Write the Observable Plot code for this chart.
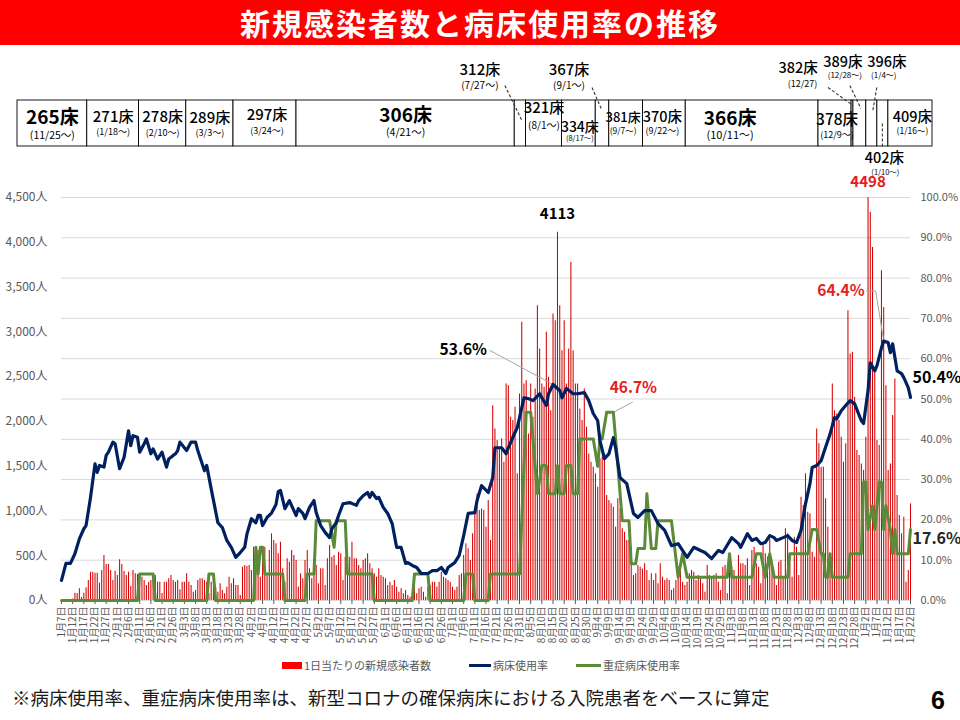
<!DOCTYPE html>
<html lang="ja">
<head>
<meta charset="utf-8">
<script src="https://cdn.jsdelivr.net/npm/d3@7"></script>
<script src="https://cdn.jsdelivr.net/npm/@observablehq/plot@0.6"></script>
<style>
  html,body{margin:0;padding:0;background:#fff;}
  #page{position:relative;width:960px;height:720px;overflow:hidden;background:#fff;font-family:"Noto Sans CJK JP","Noto Sans",sans-serif;}
  #title{position:absolute;left:0;top:0;width:960px;height:45px;background:#ff0000;color:#fff;font-weight:bold;font-size:30px;line-height:45px;text-align:center;letter-spacing:2px;}
  .layer{position:absolute;left:0;}
  .layer svg{display:block;overflow:visible;}
  #legend{position:absolute;left:282px;top:657px;display:flex;align-items:center;font-size:11px;color:#595959;white-space:nowrap;}
  #legend .item{display:flex;align-items:center;}
  #legend .sw{display:inline-block;margin-right:2px;}
  #note{position:absolute;left:12px;top:684px;font-size:18.5px;color:#1a1a1a;white-space:nowrap;}
  #pageno{position:absolute;left:931px;top:686px;font-size:25px;font-weight:bold;color:#000;font-family:"Liberation Sans",Arial,sans-serif;}
</style>
</head>
<body>
<div id="page">
  <div id="title">新規感染者数と病床使用率の推移</div>
  <div id="strip" class="layer" style="top:55px"></div>
  <div id="layerA" class="layer" style="top:165px"></div>
  <div id="layerL" class="layer" style="top:165px"></div>
  <div id="layerB" class="layer" style="top:165px"></div>
  <div id="layerC" class="layer" style="top:165px"></div>
  <div id="legend"></div>
  <div id="note">※病床使用率、重症病床使用率は、新型コロナの確保病床における入院患者をベースに算定</div>
  <div id="pageno">6</div>
</div>
<script>
// ---------------- DATA ----------------
const startDay = "2022-01-07";           // day 0 of the series (last day = day 380, 1/22)

// daily new cases (day 0 .. day 380)
const newCases = [
  0,0,0,0,0,
  18,81,77,131,33,81,141,223,316,316,
  305,305,194,335,502,401,401,335,223,327,
  279,454,401,324,279,316,157,335,298,290,
  223,261,223,167,204,223,260,279,204,204,
  78,204,204,242,279,223,204,223,120,204,
  204,298,204,167,93,112,223,242,242,223,
  204,75,204,149,149,93,186,112,75,149,
  260,186,242,167,167,56,372,391,380,391,
  335,595,502,558,260,502,595,298,558,744,
  670,633,521,
  651,354,204,465,428,558,502,446,149,298,242,446,558,354,242,
  279,391,186,354,354,167,465,614,483,502,391,539,521,223,483,391,483,651,465,465,
  391,354,446,465,521,410,354,298,260,354,279,260,242,167,204,167,223,149,
  93,131,75,112,56,37,75,149,75,131,149,93,37,149,167,204,204,149,204,316,
  260,242,223,204,149,112,149,279,298,502,633,577,446,744,968,1191,1004,1023,1004,818,1116,
  670,
  2176,1916,1786,1693,1804,1544,2418,2399,2046,2009,
  2158,1414,2306,3106,2418,2455,1860,2418,2046,2362,
  3292,2809,2418,2381,2995,2492,2120,3199,3125,4113,
  3292,2790,3125,2418,2809,3776,2790,2418,2418,2139,
  2009,2362,1934,1637,1544,1488,1414,1265,1581,1600,
  1637,1172,1116,1079,1042,818,1135,1023,800,762,
  670,670,595,279,298,391,372,353,409,335,
  223,298,223,298,186,409,260,223,242,223,
  112,130,223,298,372,205,167,205,298,335,
  316,223,
  279,260,186,93,391,279,260,279,298,205,
  112,372,391,74,502,372,335,242,502,409,
  409,391,465,167,558,595,409,372,186,632,
  521,484,688,372,260,167,428,446,242,800,
  744,409,260,707,595,279,1153,1060,1414,986,
  967,539,484,1916,1749,1488,1488,1135,818,391,
  2418,2120,2083,2009,1823,1544,1749,3236,2753,2771,
  2269,1674,1618,1525,1451,1823,4498,4334,3943,2548,
  1786,1730,3683,3273,2399,1451,1525,2065,2474,1172,
  949,744,930,205,335,1079
];

// bed occupancy rate (%) : [day, value]
const bedRate = [
[0,5.0],[2,9.2],[4,9.2],[6,11.6],[8,15.3],[10,17.8],[11,18.6],[13,25.6],[15,33.9],[16,31.8],[17,33.5],[19,33.1],[20,36.0],[21,36.8],[23,39.3],[24,38.9],[26,32.7],[28,35.5],[30,42.1],[31,38.4],[32,40.9],[34,40.5],[35,36.8],[37,38.9],[38,40.1],[40,36.4],[41,37.6],[43,35.1],[45,36.8],[47,33.1],[48,35.1],[50,36.0],[51,36.4],[52,37.2],[53,39.3],[56,37.2],[58,39.3],[60,39.3],[61,37.2],[64,32.2],[65,33.5],[67,27.7],[70,19.3],[72,18.1],[74,14.9],[76,13.2],[78,10.7],[80,11.9],[82,13.2],[83,16.5],[85,20.3],[87,19.3],[88,21.1],[89,21.1],[90,18.6],[92,20.6],[94,21.7],[96,23.8],[97,27.0],[98,27.3],[100,22.8],[102,24.8],[105,21.1],[106,22.8],[108,21.6],[109,20.3],[111,23.1],[113,24.8],[114,21.8],[116,18.6],[118,16.9],[120,15.6],[121,17.8],[123,19.3],[124,21.1],[126,24.0],[129,24.3],[132,23.6],[133,24.8],[135,26.0],[137,26.8],[138,25.6],[139,26.8],[141,25.3],[142,25.6],[144,23.1],[146,21.6],[148,19.1],[150,13.2],[152,13.2],[154,9.2],[155,9.4],[157,8.7],[159,8.2],[161,6.7],[164,6.7],[166,7.4],[168,7.4],[170,8.2],[172,6.7],[173,8.2],[176,9.4],[178,11.2],[180,16.1],[182,21.6],[185,21.8],[186,24.8],[188,28.5],[191,26.8],[193,30.5],[194,37.9],[197,37.9],[199,36.4],[200,37.9],[202,40.5],[204,42.9],[205,45.4],[207,50.3],[209,50.1],[211,49.6],[214,51.3],[217,48.4],[218,51.3],[220,53.6],[223,52.1],[224,50.3],[226,52.6],[229,51.3],[231,51.3],[234,51.6],[236,49.6],[238,46.4],[240,44.6],[241,39.7],[243,35.2],[245,36.4],[247,40.4],[248,37.9],[250,30.5],[253,29.0],[256,21.6],[258,20.6],[261,22.3],[264,22.3],[267,19.1],[270,17.4],[273,13.6],[276,14.1],[280,10.7],[283,13.2],[286,12.4],[288,11.9],[291,10.4],[294,12.4],[296,11.9],[300,15.6],[303,14.1],[304,13.2],[307,16.6],[309,14.9],[311,15.4],[313,14.1],[315,14.4],[317,16.1],[319,15.6],[320,14.9],[323,15.6],[325,16.1],[327,14.9],[329,14.4],[331,17.4],[333,24.0],[335,29.0],[336,33.0],[338,33.5],[340,34.7],[341,36.4],[344,41.3],[346,45.4],[347,45.1],[349,47.1],[351,48.4],[353,49.6],[355,48.8],[358,44.6],[359,43.9],[361,52.1],[362,59.0],[364,57.0],[365,58.3],[367,62.7],[368,64.4],[370,64.0],[371,61.5],[372,63.7],[374,57.0],[376,56.3],[377,55.3],[379,52.8],[380,50.4]
];

// severe-case bed occupancy rate (%) : [day, value]
const severeRate = [
[0,0],[34,0],[35,6.6],[41,6.6],[42,0],[65,0],[66,6.6],[68,6.6],[69,0],[86,0],[87,13.2],[88,6.6],[89,13.2],[90,13.2],[91,6.6],[99,6.6],[100,0],[109,0],[110,6.6],[113,6.6],[114,19.8],[120,19.8],[122,13.2],[123,19.8],[127,19.8],[128,6.6],[139,6.6],[140,0],[157,0],[158,6.6],[164,6.6],[165,0],[180,0],[181,6.6],[184,6.6],[185,0],[191,0],[192,6.6],[205,6.6],[208,46.7],[210,46.7],[211,40.1],[213,26.5],[215,33.5],[217,33.5],[218,26.5],[221,26.5],[222,33.5],[223,26.5],[225,26.5],[226,33.5],[228,33.5],[229,26.5],[231,26.5],[232,40.1],[238,40.1],[240,33.3],[241,40.1],[242,40.1],[244,46.7],[247,46.7],[249,33.5],[251,19.8],[254,19.8],[255,9.1],[257,9.1],[258,12.9],[261,12.9],[262,26.5],[263,19.8],[264,12.9],[266,12.9],[267,19.8],[273,19.8],[276,5.8],[278,11.6],[280,5.8],[298,5.8],[299,11.6],[300,5.8],[309,5.8],[311,11.6],[313,11.6],[315,5.8],[317,11.6],[319,5.8],[325,5.8],[326,11.6],[334,11.6],[336,17.6],[338,17.6],[340,11.6],[341,11.6],[342,5.8],[343,5.8],[344,11.6],[345,5.8],[352,5.8],[353,11.6],[358,11.6],[359,29.4],[360,29.4],[361,17.6],[363,23.5],[364,17.6],[366,29.4],[367,29.4],[368,17.6],[369,23.5],[371,17.6],[372,11.6],[373,17.6],[374,11.6],[379,11.6],[380,17.6]
];

// labelled points
const peakDays = [222, 361];                 // new-case peaks labelled with their value
const bedLabelDays = [220, 368, 380];        // bed rate labels
const severeLabelDays = [247, 380];          // severe rate labels

// secured beds
const bedLabels = ["265床","271床","278床","289床","297床","306床","312床","321床","334床","367床","381床","370床","366床","378床","382床","389床","396床","402床","409床"];
const bedSince  = ["(11/25～)","(1/18～)","(2/10～)","(3/3～)","(3/24～)","(4/21～)","(7/27～)","(8/1～)","(8/17～)","(9/1～)","(9/7～)","(9/22～)","(10/11～)","(12/9～)","(12/27)","(12/28～)","(1/4～)","(1/10～)","(1/16～)"];
const bedStart  = ["2021-11-25","2022-01-18","2022-02-10","2022-03-03","2022-03-24","2022-04-21","2022-07-27","2022-08-01","2022-08-17","2022-09-01","2022-09-07","2022-09-22","2022-10-11","2022-12-09","2022-12-27","2022-12-28","2023-01-04","2023-01-10","2023-01-16"];

const yTicksPeople = [0,500,1000,1500,2000,2500,3000,3500,4000,4500];
const yTicksPct = [0,10,20,30,40,50,60,70,80,90,100];
const seriesNames = ["1日当たりの新規感染者数","病床使用率","重症病床使用率"];

// ---------------- STYLE ----------------
const RED = "#d60000", NAVY = "#002060", GREEN = "#5b8a38", LABELRED = "#e3201c";
const FONT = '"Noto Sans CJK JP","Noto Sans",sans-serif';
const W = 960, H = 495;

const t0 = new Date(startDay + "T00:00:00Z").getTime();
const dayDate = d => new Date(t0 + d * 864e5);

const xMain = {type: "utc", domain: [dayDate(0), dayDate(newCases.length - 1)], range: [61, 910]};
const yPct = {domain: [0, 100], range: [435, 32]};
const yPeople = {domain: [0, 4500], range: [435, 32]};
const common = {width: W, height: H, marginTop: 32, marginBottom: 60, marginLeft: 61, marginRight: 50};

const caseRows = newCases.map((v, i) => ({date: dayDate(i), cases: v}));
const bedRows = bedRate.map(([d, v]) => ({date: dayDate(d), value: v}));
const sevRows = severeRate.map(([d, v]) => ({date: dayDate(d), value: v}));
const tickDates = d3.range(0, newCases.length, 5).map(dayDate);

// Layer A: gridlines + right axis (%)
document.getElementById("layerA").append(Plot.plot({
  ...common,
  style: {background: "transparent", fontFamily: FONT, fontSize: "11px", color: "#595959"},
  x: {...xMain, axis: null},
  y: {...yPct, axis: "right", ticks: yTicksPct, tickFormat: d => d.toFixed(1) + "%", tickSize: 0, tickPadding: 10, label: null},
  marks: [Plot.ruleY(yTicksPct, {y: d => d, stroke: "#d9d9d9", strokeWidth: 1})]
}));

// Layer L: left axis (people)
document.getElementById("layerL").append(Plot.plot({
  ...common,
  style: {background: "transparent", fontFamily: FONT, fontSize: "12px", color: "#595959"},
  x: {...xMain, axis: null},
  y: {...yPeople, ticks: yTicksPeople, tickFormat: d => d3.format(",")(d) + "人", tickSize: 0, tickPadding: 14, label: null},
  marks: [Plot.ruleY(yTicksPeople, {y: d => d, strokeOpacity: 0})]
}));

// Layer B: daily bars + date axis
const fmtDate = d => `${d.getUTCMonth() + 1}月${d.getUTCDate()}日`;
document.getElementById("layerB").append(Plot.plot({
  ...common,
  style: {background: "transparent", fontFamily: FONT, fontSize: "10px", color: "#595959"},
  x: {...xMain, ticks: tickDates, tickFormat: fmtDate, tickRotate: -90, tickSize: 4, tickPadding: 2, label: null},
  y: {...yPeople, axis: null},
  marks: [
    Plot.ruleX(caseRows, {x: "date", y: "cases", stroke: RED, strokeWidth: 1.05}),
    Plot.text(peakDays.filter(d => d === 222), {x: d => dayDate(d), y: d => newCases[d], text: d => String(newCases[d]), dy: -18, fontSize: 15, fontWeight: "bold", fill: "#000"}),
    Plot.text(peakDays.filter(d => d === 361), {x: d => dayDate(d), y: d => newCases[d], text: d => String(newCases[d]), dy: -15, fontSize: 15, fontWeight: "bold", fill: LABELRED})
  ]
}));

// Layer C: rate lines + annotations
const sx = Plot.scale({x: xMain});
const sy = Plot.scale({y: yPct});
const offs = (date, value, dx, dy) => ({date: sx.invert(sx.apply(date) + dx), value: sy.invert(sy.apply(value) + dy)});
const bedVal = d => bedRate.find(p => p[0] === d)[1];
const sevVal = d => severeRate.filter(p => p[0] === d).slice(-1)[0][1];

const b1 = {date: dayDate(bedLabelDays[0]), value: bedVal(bedLabelDays[0])};   // 53.6
const b2 = {date: dayDate(bedLabelDays[1]), value: bedVal(bedLabelDays[1])};   // 64.4
const b3 = {date: dayDate(bedLabelDays[2]), value: bedVal(bedLabelDays[2])};   // 50.4
const s1 = {date: dayDate(severeLabelDays[0]), value: sevVal(severeLabelDays[0])}; // 46.7
const s2 = {date: dayDate(severeLabelDays[1]), value: sevVal(severeLabelDays[1])}; // 17.6
const pctText = d => d.value.toFixed(1) + "%";

const lead1 = [b1, offs(b1.date, b1.value, -63, -34)];
const lead2 = [s1, offs(s1.date, s1.value, 19, -10)];
const lead3 = [b2, offs(b2.date, b2.value, -8, -50), offs(b2.date, b2.value, -17, -50)];

document.getElementById("layerC").append(Plot.plot({
  ...common,
  style: {background: "transparent", fontFamily: FONT},
  x: {...xMain, axis: null},
  y: {...yPct, axis: null},
  marks: [
    Plot.line(lead1, {x: "date", y: "value", stroke: "#a6a6a6", strokeWidth: 1}),
    Plot.line(lead2, {x: "date", y: "value", stroke: "#a6a6a6", strokeWidth: 1}),
    Plot.line(lead3, {x: "date", y: "value", stroke: "#a6a6a6", strokeWidth: 1}),
    Plot.line(sevRows, {x: "date", y: "value", stroke: GREEN, strokeWidth: 3, strokeLinejoin: "round"}),
    Plot.line(bedRows, {x: "date", y: "value", stroke: NAVY, strokeWidth: 3.2, strokeLinejoin: "round"}),
    Plot.text([b1], {x: "date", y: "value", text: pctText, dx: -66, dy: -34, textAnchor: "end", fontSize: 15.5, fontWeight: "bold", fill: "#000"}),
    Plot.text([s1], {x: "date", y: "value", text: pctText, dx: 20, dy: -24, fontSize: 15.5, fontWeight: "bold", fill: LABELRED}),
    Plot.text([b2], {x: "date", y: "value", text: pctText, dx: -19, dy: -50, textAnchor: "end", fontSize: 15.5, fontWeight: "bold", fill: LABELRED}),
    Plot.text([b3], {x: "date", y: "value", text: pctText, dx: 2, dy: -20, textAnchor: "start", fontSize: 16, fontWeight: "bold", fill: "#000"}),
    Plot.text([s2], {x: "date", y: "value", text: pctText, dx: 2, dy: 9, textAnchor: "start", fontSize: 16, fontWeight: "bold", fill: "#262626"})
  ]
}));

// ---------------- Bed strip ----------------
const stripX = {type: "utc", domain: [new Date("2021-12-18T00:00:00Z"), new Date("2022-12-09T00:00:00Z"), new Date("2023-02-09T00:00:00Z")], range: [17, 818, 932], clamp: true};
const ssx = Plot.scale({x: stripX});
const startDates = bedStart.map(s => new Date(s + "T00:00:00Z"));
const boxes = bedLabels.map((lab, i) => {
  const s = startDates[i], e = i + 1 < startDates.length ? startDates[i + 1] : stripX.domain[2];
  const mid = ssx.invert((ssx.apply(s) + ssx.apply(e)) / 2);
  return {i, lab, since: bedSince[i], s, e, mid};
});
// per-label layout: dx, y, font size, weight, date dx, date y, date size
const L = [
  [0, 62, 19, 600, 0, 80, 10.5],
  [0, 62, 15, 500, 0, 77, 9],
  [0, 62, 15, 500, 0, 78, 9],
  [0, 63, 15, 500, 0, 78, 9],
  [2, 60, 15, 500, 2, 76, 9],
  [0, 60, 19, 600, 0, 77, 10.5],
  [-40.5, 15, 15, 500, -40.5, 30, 10],
  [0, 53, 15, 500, 0, 70, 10],
  [1, 72, 14, 500, 1, 83, 7.5],
  [-33.5, 15, 15, 500, -33.5, 30, 10],
  [-3, 62, 13, 500, -3, 76, 8.5],
  [-2, 62, 14.5, 500, -2, 76, 9],
  [-22, 63, 19, 600, -22, 80, 11],
  [2, 65, 15.5, 500, 2, 80, 9],
  [-54.5, 13, 14.5, 500, -50, 29, 9],
  [-17, 7, 14.5, 500, -15, 20, 8],
  [15, 7, 14.5, 500, 12, 20, 8],
  [1.5, 103, 14.5, 500, 2.5, 117, 7.5],
  [2, 62, 14.5, 500, 2, 76, 8.5]
];
const leaders = [[6, -15.5, 30, 1.5, 65], [9, -10.5, 32, -0.5, 55], [14, -24.5, 32, 0.5, 50], [15, -10, 30, 1, 53], [16, 5, 32, 1, 55], [17, -0.5, 68, -0.5, 92]];
const lx = (i, dx) => ssx.invert(ssx.apply(boxes[i].mid) + dx);

const stripMarks = [
  Plot.rect(boxes, {x1: "s", x2: "e", y1: () => 45, y2: () => 91, fill: "#fff", stroke: "#000", strokeWidth: 0.9})
];
boxes.forEach((b, i) => {
  const [dx, y, fs, fw, ddx, dy2, dfs] = L[i];
  stripMarks.push(Plot.text([b], {x: "mid", y: () => y, text: "lab", dx, fontSize: fs, fontWeight: fw, fill: "#000"}));
  stripMarks.push(Plot.text([b], {x: "mid", y: () => dy2, text: "since", dx: ddx, fontSize: dfs, fill: "#000"}));
});
leaders.forEach(([i, dx1, y1, dx2, y2]) => {
  stripMarks.push(Plot.link([boxes[i]], {x1: () => lx(i, dx1), y1: () => y1, x2: () => lx(i, dx2), y2: () => y2, stroke: "#333", strokeWidth: 1.1, strokeDasharray: "3,2"}));
});
document.getElementById("strip").append(Plot.plot({
  width: W, height: 125, margin: 0,
  style: {background: "transparent", fontFamily: FONT},
  x: {...stripX, axis: null},
  y: {domain: [0, 125], range: [0, 125], axis: null},
  marks: stripMarks
}));

// ---------------- Legend ----------------
const legend = document.getElementById("legend");
const swatches = [
  {w: 20, h: 7, c: "#ff0000", gap: 38},
  {w: 22, h: 3, c: NAVY, gap: 28},
  {w: 25, h: 3, c: GREEN, gap: 0}
];
seriesNames.forEach((name, i) => {
  const it = document.createElement("div");
  it.className = "item";
  it.style.marginRight = swatches[i].gap + "px";
  const sw = document.createElement("span");
  sw.className = "sw";
  sw.style.width = swatches[i].w + "px";
  sw.style.height = swatches[i].h + "px";
  sw.style.background = swatches[i].c;
  const tx = document.createElement("span");
  tx.textContent = name;
  it.append(sw, tx);
  legend.append(it);
});
</script>
</body>
</html>
